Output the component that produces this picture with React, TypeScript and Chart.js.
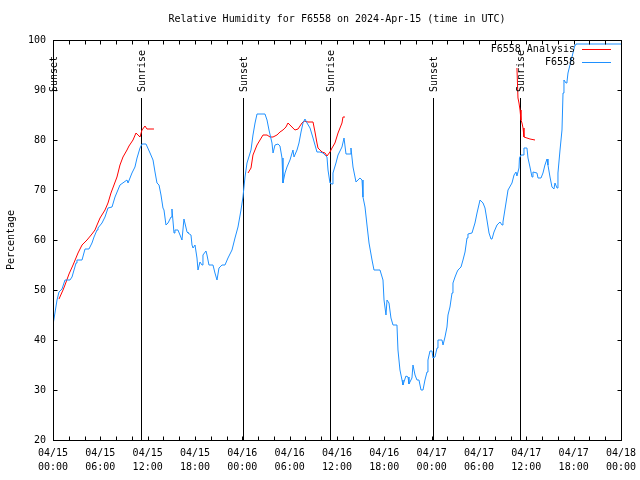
import { useEffect, useRef } from "react";
import { Chart, registerables } from "chart.js";

Chart.register(...registerables);

const FONT = "'DejaVu Sans Mono', monospace";

const chartTitle = "Relative Humidity for F6558 on 2024-Apr-15 (time in UTC)";
const yAxisTitle = "Percentage";
const seriesNames = ["F6558 Analysis", "F6558"];
const seriesColors = ["#ff0000", "#1e90ff"];

// x axis: hours since 04/15 00:00 UTC
const xTickDates = ["04/15", "04/15", "04/15", "04/15", "04/16", "04/16", "04/16", "04/16", "04/17", "04/17", "04/17", "04/17", "04/18"];
const xTickTimes = ["00:00", "06:00", "12:00", "18:00", "00:00", "06:00", "12:00", "18:00", "00:00", "06:00", "12:00", "18:00", "00:00"];

const sunHours = [0.0, 11.15, 24.08, 35.11, 48.17, 59.2];
const sunLabels = ["Sunset", "Sunrise", "Sunset", "Sunrise", "Sunset", "Sunrise"];

// Observed F6558 (blue)
const observedHours = [
  0.0, 0.51, 0.76, 1.14, 1.52, 2.15, 2.41, 2.92, 3.04, 3.68, 4.06, 4.56, 4.94, 5.2, 5.58, 5.7, 6.21, 6.59, 6.97, 7.48,
  7.86, 8.49, 9.38, 9.51, 10.01, 10.39, 10.65, 11.03, 11.28, 11.79, 12.3, 12.68, 12.93, 13.18, 13.44, 13.69, 13.94, 14.07,
  14.32, 14.58, 14.96, 15.08, 15.34, 15.46, 15.84, 16.1, 16.35, 16.6, 16.99, 17.11, 17.49, 17.62, 17.75, 18.0, 18.25, 18.38,
  18.63, 18.89, 19.01, 19.39, 19.52, 19.77, 20.28, 20.53, 20.79, 21.04, 21.42, 21.8, 22.18, 22.69, 23.07, 23.45, 23.83,
  24.08, 24.34, 24.59, 25.1, 25.35, 25.61, 25.86, 26.87, 27.13, 27.38, 27.76, 27.89, 28.14, 28.52, 28.77, 29.03, 29.15,
  29.41, 29.66, 30.04, 30.42, 30.55, 30.93, 31.18, 31.44, 31.69, 31.94, 32.2, 32.58, 32.96, 33.21, 33.46, 33.84, 34.22,
  34.73, 34.86, 35.11, 35.37, 35.49, 35.87, 36.13, 36.63, 36.89, 37.14, 37.65, 37.77, 38.03, 38.41, 38.91, 39.17, 39.29,
  39.55, 39.8, 40.06, 40.44, 40.69, 41.45, 41.83, 41.96, 42.21, 42.34, 42.59, 42.84, 43.1, 43.6, 43.73, 43.98, 44.24,
  44.36, 44.74, 45.0, 45.12, 45.5, 45.63, 45.89, 46.14, 46.39, 46.65, 46.9, 47.15, 47.41, 47.53, 47.79, 48.04, 48.17,
  48.42, 48.68, 48.8, 49.31, 49.44, 49.69, 49.94, 50.07, 50.32, 50.58, 50.7, 50.96, 51.21, 51.34, 51.72, 51.97, 52.23,
  52.48, 52.6, 53.11, 53.49, 53.75, 54.13, 54.51, 54.76, 55.01, 55.27, 55.52, 55.65, 55.9, 56.28, 56.66, 56.92, 57.04,
  57.42, 57.68, 58.18, 58.44, 58.69, 58.81, 59.07, 59.13, 59.32, 59.58, 59.7, 60.08, 60.21, 60.46, 60.72, 60.84, 61.35,
  61.48, 61.86, 62.11, 62.36, 62.62, 62.74, 63.0, 63.25, 63.5, 63.63, 63.89, 64.01, 64.27, 64.52, 64.65, 64.77, 65.03,
  65.15, 65.28, 65.53, 65.91, 66.17, 66.29, 72.0,
];
const observedValues = [
  43, 48, 49.6, 50.2, 52, 52, 52.6, 55.4, 56, 56, 58.2, 58.2, 59.4, 60.6, 62, 62.4, 63.4, 64.6, 66.4, 66.6,
  68.6, 71, 72, 71.4, 73.4, 74.6, 76.4, 78.4, 79.2, 79.2, 77.4, 76, 73.6, 71.4, 71, 69, 66.4, 66,
  63, 63.4, 64.6, 66.2, 61.4, 62, 62, 61, 60, 64.2, 61.6, 61.4, 61, 59, 58.4, 59, 56.4, 54,
  55.6, 55, 57, 57.8, 57, 55, 55, 53.4, 52, 54.4, 55, 55, 56.4, 58, 60.4, 62.6, 66,
  68.6, 72.6, 75.4, 78, 81, 83.4, 85.2, 85.2, 84, 82, 79.4, 77.4, 79, 79.2, 78.8, 76.4, 71.4,
  73.4, 74.6, 76, 78, 76.6, 78, 79.4, 81.6, 83.4, 84.2, 83.4, 82.4, 80.4, 79, 77.6, 77.6, 77.4,
  76.6, 74, 71.4, 71.2, 73.4, 75.4, 77, 78.6, 80.4, 77.2, 77.2, 78.4, 74.6, 71.6, 72.4, 72, 68.6,
  66.6, 63, 59.4, 56, 54, 54, 52, 48, 45, 48, 47.4, 44.4, 43, 43, 38, 34, 32,
  31, 32.8, 32.6, 31.2, 32.4, 35, 33, 32, 32, 30, 30, 32, 33.6, 36, 37.8, 37.8, 36.4,
  36.6, 38.4, 40, 40, 39, 40.6, 42.6, 45, 46.6, 49.4, 51.4, 52.6, 53.6, 54, 54.6, 56, 57.6,
  60.4, 61.2, 61.4, 63.4, 65.4, 68, 67.4, 66.4, 64, 61.4, 60.2, 60.2, 61.6, 63, 63.6, 63, 63.6,
  67.4, 70, 71.4, 73, 73.6, 72.8, 74.4, 76.4, 77, 77, 78.4, 78.4, 76.4, 74.6, 72.6, 73.6, 73.4,
  72.4, 72.4, 73.4, 75, 76.2, 75, 72.6, 70.6, 70.2, 71.4, 70.4, 73.4, 78, 82, 89.4, 92, 91.4,
  91.6, 93.4, 95, 97.4, 99, 99.2, 99.2,
];

// Analysis (red), three separate runs
const analysis1Hours = [0.76, 1.27, 1.52, 2.03, 2.54, 3.17, 3.68, 4.31, 4.94, 5.32, 5.58, 5.96, 6.59, 6.97, 7.35, 7.73, 8.11, 8.49, 8.87, 9.38, 9.63, 10.14, 10.52, 10.77, 11.03, 11.28, 11.66, 11.91, 12.8];
const analysis1Values = [48.2, 50, 51, 53.2, 55, 57.4, 59, 60, 61.2, 62, 63, 64.4, 66, 67.4, 69.4, 71, 72.6, 75, 76.6, 78, 78.8, 80, 81.4, 81, 80.6, 82, 82.8, 82.2, 82.2];
const analysis2Hours = [24.72, 25.1, 25.35, 25.86, 26.24, 26.62, 27.13, 27.51, 27.89, 28.39, 28.77, 29.15, 29.53, 29.79, 30.29, 30.67, 31.06, 31.56, 31.82, 32.32, 32.96, 33.21, 33.46, 33.59, 34.1, 34.48, 34.73, 35.11, 35.37, 35.74, 36.13, 36.63, 36.76, 37.01];
const analysis2Values = [73.4, 74.4, 77, 79, 80, 81, 81, 80.6, 80.6, 81, 81.6, 82, 82.6, 83.4, 82.6, 82, 82.2, 83.4, 83.8, 83.6, 83.6, 81.6, 79.4, 78.4, 77.6, 77.4, 76.8, 77.6, 78.4, 79.4, 81.4, 83.4, 84.6, 84.6];
const analysis3Hours = [58.81, 58.94, 59.07, 59.2, 59.32, 59.45, 59.58, 59.7, 60.08, 60.46, 61.1];
const analysis3Values = [94.4, 88.4, 87.4, 86, 84, 83.4, 82.4, 80.6, 80.4, 80.2, 80];

const zip = (xs: number[], ys: number[]) => xs.map((x, i) => ({ x, y: ys[i] }));

const decorPlugin = {
  id: "gnuplotDecor",
  beforeDatasetsDraw(chart: any) {
    const { ctx, chartArea, scales } = chart;
    const xs = scales.x;
    const ys = scales.y;
    ctx.save();
    ctx.strokeStyle = "#000";
    ctx.lineWidth = 1;
    const top = Math.round(ys.getPixelForValue(88.4));
    sunHours.forEach((h) => {
      const px = Math.round(xs.getPixelForValue(h)) + 0.5;
      ctx.beginPath();
      ctx.moveTo(px, top);
      ctx.lineTo(px, chartArea.bottom);
      ctx.stroke();
    });
    ctx.restore();
  },
  afterDraw(chart: any) {
    const { ctx, chartArea, scales } = chart;
    const xs = scales.x;
    const ys = scales.y;
    const L = Math.round(chartArea.left) + 0.5;
    const R = Math.round(chartArea.right) + 0.5;
    const T = Math.round(chartArea.top) + 0.5;
    const B = Math.round(chartArea.bottom) + 0.5;
    ctx.save();
    ctx.strokeStyle = "#000";
    ctx.lineWidth = 1;
    ctx.strokeRect(L, T, R - L, B - T);
    const tl = 4;
    ctx.beginPath();
    for (let v = 20; v <= 100; v += 10) {
      const py = Math.round(ys.getPixelForValue(v)) + 0.5;
      ctx.moveTo(L, py);
      ctx.lineTo(L + tl, py);
      ctx.moveTo(R, py);
      ctx.lineTo(R - tl, py);
    }
    for (let h = 0; h <= 72; h += 2) {
      const px = Math.round(xs.getPixelForValue(h)) + 0.5;
      ctx.moveTo(px, B);
      ctx.lineTo(px, B - tl);
      ctx.moveTo(px, T);
      ctx.lineTo(px, T + tl);
    }
    ctx.stroke();

    ctx.fillStyle = "#000";
    ctx.font = `10px ${FONT}`;
    ctx.textAlign = "center";
    ctx.textBaseline = "middle";
    ctx.fillText(chartTitle, (chartArea.left + chartArea.right) / 2, 19);

    ctx.save();
    ctx.translate(11, (chartArea.top + chartArea.bottom) / 2);
    ctx.rotate(-Math.PI / 2);
    ctx.fillText(yAxisTitle, 0, 0);
    ctx.restore();

    // sun labels
    const labelY = ys.getPixelForValue(89.6);
    sunHours.forEach((h, i) => {
      const px = xs.getPixelForValue(h) + 1.5;
      ctx.save();
      ctx.translate(px, labelY);
      ctx.rotate(-Math.PI / 2);
      ctx.textAlign = "left";
      ctx.textBaseline = "middle";
      ctx.fillText(sunLabels[i], 0, 0);
      ctx.restore();
    });

    // legend
    const rowY = [49.5, 62.5];
    const textRight = chartArea.right - 46;
    seriesNames.forEach((name, i) => {
      ctx.textAlign = "right";
      ctx.textBaseline = "middle";
      ctx.fillStyle = "#000";
      ctx.fillText(name, textRight, rowY[i]);
      ctx.strokeStyle = seriesColors[i];
      ctx.beginPath();
      ctx.moveTo(textRight + 7, Math.floor(rowY[i]) + 0.5);
      ctx.lineTo(textRight + 36, Math.floor(rowY[i]) + 0.5);
      ctx.stroke();
    });
    ctx.restore();
  },
};

export default function App() {
  const ref = useRef<HTMLCanvasElement | null>(null);
  useEffect(() => {
    if (!ref.current) return;
    const lineDs = (label: string, data: any[], color: string) => ({
      label,
      data,
      borderColor: color,
      backgroundColor: color,
      borderWidth: 1,
      pointRadius: 0,
      fill: false,
      tension: 0,
      spanGaps: false,
    });
    const chart = new Chart(ref.current, {
      type: "line",
      data: {
        datasets: [
          lineDs(seriesNames[1], zip(observedHours, observedValues), seriesColors[1]),
          lineDs(seriesNames[0], zip(analysis1Hours, analysis1Values), seriesColors[0]),
          lineDs(seriesNames[0], zip(analysis2Hours, analysis2Values), seriesColors[0]),
          lineDs(seriesNames[0], zip(analysis3Hours, analysis3Values), seriesColors[0]),
        ],
      },
      options: {
        animation: false,
        responsive: false,
        maintainAspectRatio: false,
        events: [],
        layout: { padding: { top: 40, right: 19, left: 0, bottom: 0 } },
        plugins: { legend: { display: false }, title: { display: false }, tooltip: { enabled: false } },
        scales: {
          x: {
            type: "linear",
            min: 0,
            max: 72,
            grid: { display: false, drawTicks: false },
            border: { display: false },
            afterFit: (s: any) => {
              s.height = 40;
              s.paddingLeft = 0;
              s.paddingRight = 0;
            },
            ticks: {
              stepSize: 6,
              autoSkip: false,
              maxRotation: 0,
              padding: 6,
              color: "#000",
              font: { family: FONT, size: 10, lineHeight: 1.4 },
              callback: (_v: any, i: number) => [xTickDates[i], xTickTimes[i]],
            },
          },
          y: {
            type: "linear",
            min: 20,
            max: 100,
            grid: { display: false, drawTicks: false },
            border: { display: false },
            afterFit: (s: any) => {
              s.width = 53;
              s.paddingTop = 0;
              s.paddingBottom = 0;
            },
            ticks: {
              stepSize: 10,
              padding: 7,
              color: "#000",
              font: { family: FONT, size: 10 },
            },
          },
        },
      },
      plugins: [decorPlugin],
    } as any);
    return () => chart.destroy();
  }, []);
  return (
    <div style={{ position: "fixed", left: 0, top: 0, width: 640, height: 480, background: "#fff" }}>
      <canvas ref={ref} width={640} height={480} style={{ width: 640, height: 480, display: "block" }} />
    </div>
  );
}
